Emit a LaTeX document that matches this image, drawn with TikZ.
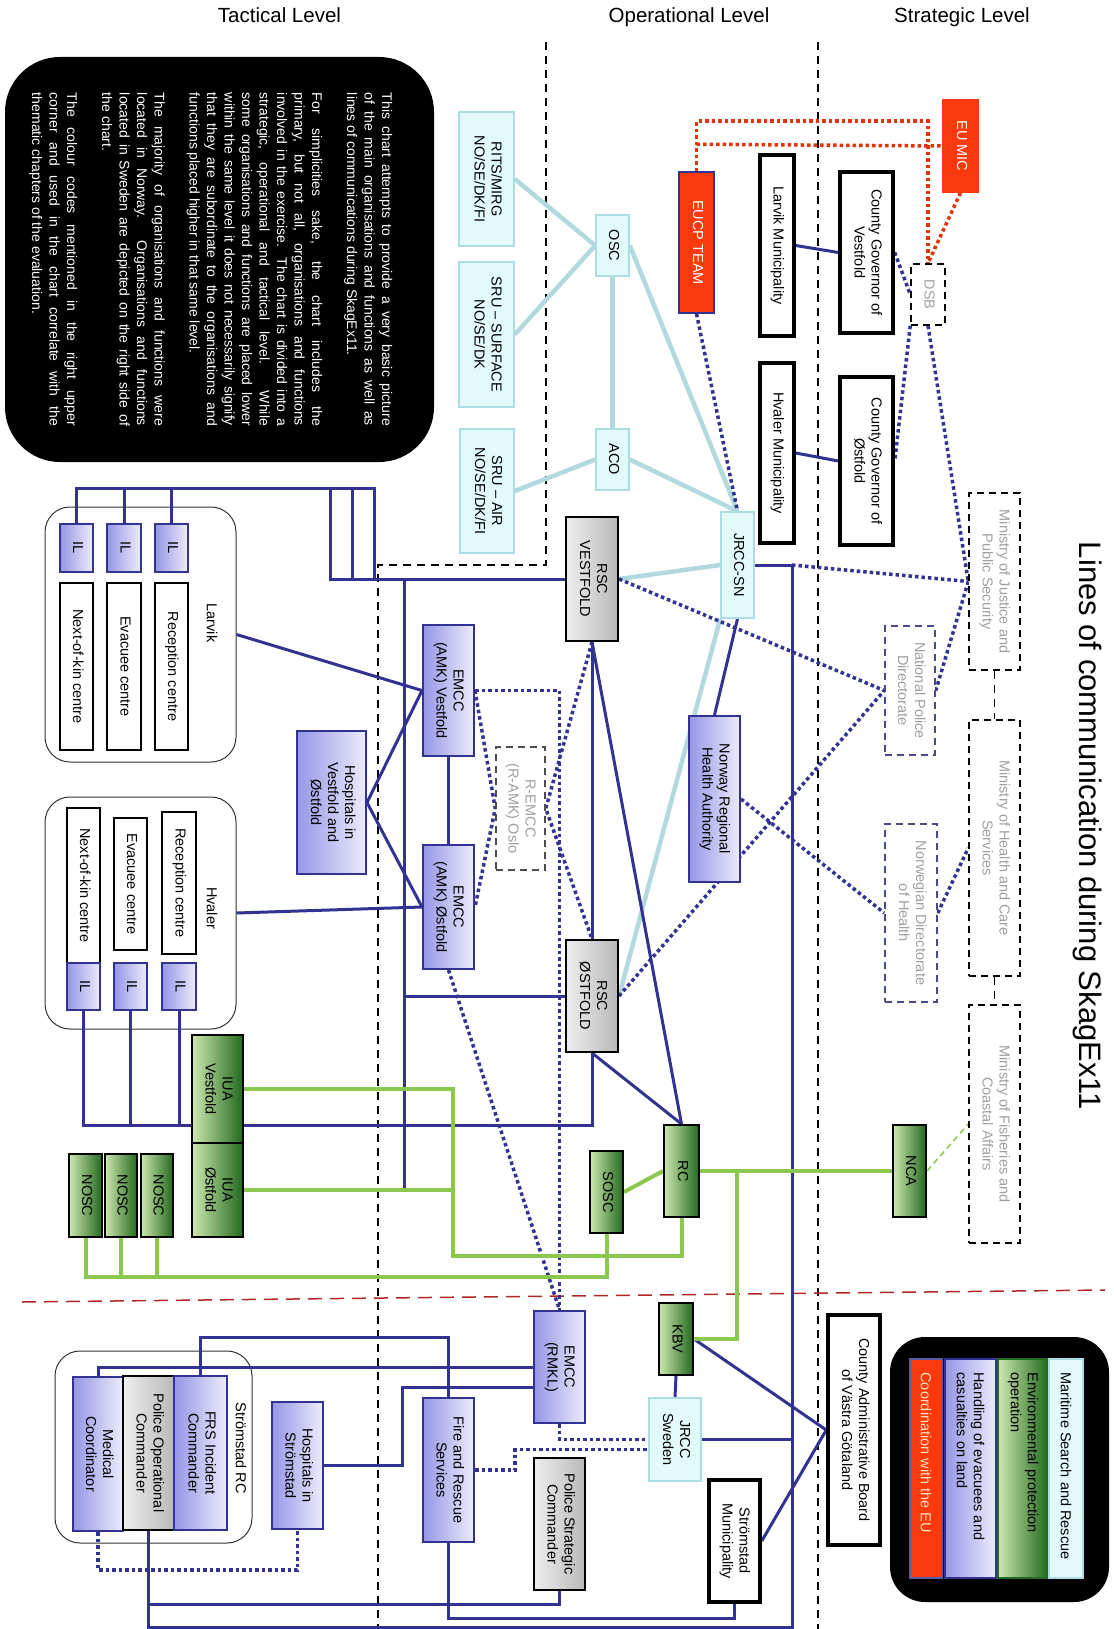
\documentclass[tikz,border=0pt]{standalone}
\usepackage{fontspec}
\usepackage{graphicx}
\setmainfont{Liberation Sans}
\usetikzlibrary{calc}
\pgfdeclarelayer{paper}
\pgfdeclarelayer{grp}
\pgfdeclarelayer{lines}
\pgfsetlayers{paper,grp,lines,main}
\definecolor{navy}{RGB}{50,50,145}
\definecolor{lblue}{RGB}{178,218,222}
\definecolor{lgreen}{RGB}{140,200,80}
\definecolor{cyanfill}{RGB}{226,250,250}
\definecolor{cyanbord}{RGB}{170,222,226}
\definecolor{lavL}{RGB}{150,150,230}
\definecolor{lavR}{RGB}{236,236,252}
\definecolor{grnL}{RGB}{205,232,175}
\definecolor{grnR}{RGB}{35,105,30}
\definecolor{grayL}{RGB}{238,238,238}
\definecolor{grayR}{RGB}{185,185,185}
\definecolor{eured}{RGB}{250,58,12}
\definecolor{txtgray}{RGB}{160,160,160}
\definecolor{darkred}{RGB}{175,40,40}
\definecolor{peach}{RGB}{255,225,190}
\newcommand\bxfont{\fontsize{14.5}{17}\selectfont}
\newcommand\hdfont{\fontsize{20.5}{24}\selectfont}
\newcommand\ttlfont{\fontsize{31}{36}\selectfont}
\newcommand\rt[1]{\rotatebox{-90}{\begin{tabular}{@{}c@{}}#1\end{tabular}}}
\newcommand\lgtext[1]{\rotatebox{-90}{\parbox{192pt}{\raggedright #1}}}
\newcommand\bx[7]{\node[#2,minimum width={(#5)-(#3)},minimum height={(#6)-(#4)}] (#1) at ({((#3)+(#5))/2},{((#4)+(#6))/2}) {\rt{#7}};}
\newcommand\lgx[6]{\node[#2,minimum width={(#4)-(#3)},minimum height={219}] (#1) at ({((#3)+(#4))/2},1468.5) {\lgtext{#6}};}
\tikzset{
 every node/.style={font=\bxfont, inner sep=0pt},
 bxbase/.style={rectangle, inner sep=0pt},
 cyanbox/.style={bxbase, fill=cyanfill, draw=cyanbord, line width=1.5pt},
 lavbox/.style={bxbase, left color=lavL, right color=lavR, draw=navy, line width=2pt},
 grnbox/.style={bxbase, left color=grnL, right color=grnR, draw=black, line width=2pt},
 graybox/.style={bxbase, left color=grayL, right color=grayR, draw=black, line width=2pt},
 blkbox/.style={bxbase, fill=white, draw=black, line width=3.5pt},
 redbox/.style={bxbase, fill=eured, draw=navy, line width=1.5pt, text=white},
 dashbox/.style={bxbase, fill=white, draw=black, line width=1.5pt, dash pattern=on 7pt off 5pt, text=txtgray},
 ndashbox/.style={dashbox, draw=navy!70!gray},
 thinbox/.style={bxbase, fill=white, draw=black, line width=1.5pt},
 grpbox/.style={draw=black!80, line width=1pt, rounded corners=25pt, fill=white},
 nv/.style={draw=navy, line width=3pt},
 nvdot/.style={draw=navy, line width=3.5pt, dash pattern=on 3.5pt off 3pt},
 lbl/.style={draw=lblue, line width=4.5pt},
 grl/.style={draw=lgreen, line width=4pt},
 reddot/.style={draw=eured!90!black, line width=3.5pt, dash pattern=on 3.5pt off 3pt},
 sepline/.style={draw=black, line width=1.5pt, dash pattern=on 8pt off 6pt},
}
\begin{document}
\begin{tikzpicture}[x=1pt,y=-1pt]
\useasboundingbox (0,0) rectangle (1113,1629);
\begin{pgfonlayer}{paper}
\fill[white] (0,0) rectangle (1113,1629);
\end{pgfonlayer}
% ---------- separators and groups
\begin{pgfonlayer}{grp}
\draw[sepline] (546,42) -- (546,565) -- (378,565) -- (378,1629);
\draw[sepline] (818,42) -- (818,1629);
\draw[darkred, line width=1.5pt, dash pattern=on 14pt off 8pt] (22,1302) -- (1105,1290);
\bx{LVG}{grpbox}{45}{507}{236}{762}{}
\bx{HVG}{grpbox}{45}{797}{236}{1029}{}
\bx{SRC}{grpbox}{55}{1351}{252}{1543}{}
\end{pgfonlayer}
% ---------- headers
\node[anchor=base] (hT) at (279.5,22.5) {\hdfont Tactical Level};
\node[anchor=base] (hO) at (689,22.5) {\hdfont Operational Level};
\node[anchor=base] (hS) at (962,22.5) {\hdfont Strategic Level};
\node (title) at (1087,826) {\rotatebox{-90}{\ttlfont Lines of communication during SkagEx11}};
% ---------- notes
\node[fill=black, rounded corners=55pt, minimum width=429, minimum height=405] (notes) at (219.5,259.5) {\rotatebox{-90}{\parbox{333pt}{\fontsize{14}{17.5}\selectfont\color{white}\setlength\parskip{17.5pt}\setlength\parindent{0pt}%
This chart attempts to provide a very basic picture\linebreak of the main organisations and functions as well as\linebreak lines of communications during SkagEx11.\par
For simplicities sake, the chart includes the\linebreak primary, but not all, organisations and functions\linebreak involved in the exercise. The chart is divided into a\linebreak strategic, operational and tactical level. While\linebreak some organisations and functions are placed lower\linebreak within the same level it does not necessarily signify\linebreak that they are subordinate to the organisations and\linebreak functions placed higher in that same level.\par
The majority of organisations and functions were\linebreak located in Norway. Organisations and functions\linebreak located in Sweden are depicted on the right side of\linebreak the chart.\par
The colour codes mentioned in the right upper\linebreak corner and used in the chart correlate with the\linebreak thematic chapters of the evaluation.\par}}};
% ---------- strategic
\bx{EUMIC}{redbox,draw=eured}{943}{100}{978}{192}{EU MIC}
\bx{DSB}{dashbox}{911}{264}{945}{325}{DSB}
\bx{CGV}{blkbox}{840}{172}{893}{333}{County Governor of\\Vestfold}
\bx{LM}{blkbox}{760}{155}{794}{336}{Larvik Municipality}
\bx{HM}{blkbox}{760}{363}{794}{543}{Hvaler Municipality}
\bx{CGO}{blkbox}{840}{377}{893}{545}{County Governor of\\Østfold}
\bx{MoJ}{dashbox}{969}{493}{1020}{670}{Ministry of Justice and\\Public Security}
\bx{MoH}{dashbox}{969}{720}{1020}{976}{Ministry of Health and Care\\Services}
\bx{MoF}{dashbox}{969}{1005}{1020}{1243}{Ministry of Fisheries and\\Coastal Affairs}
\bx{NPD}{ndashbox}{885}{626}{935}{755}{National Police\\Directorate}
\bx{NDH}{ndashbox}{885}{824}{937}{1002}{Norwegian Directorate\\of Health}
\bx{NCA}{grnbox}{893}{1125}{926}{1217}{NCA}
\bx{CAB}{blkbox}{828}{1315}{880}{1545}{County Administrative Board\\of Västra Götaland}
% legend
\node[fill=black, rounded corners=35pt, minimum width=219, minimum height=265] (LEG) at (999.5,1469.5) {};
\lgx{LRED}{bxbase,fill=eured,draw=navy!80,line width=1.5pt,text=peach}{910}{942}{}{Coordination with the EU}
\lgx{LLAV}{lavbox}{945}{996}{}{Handling of evacuees and\\casualties on land}
\lgx{LGRN}{grnbox,draw=grnR}{998}{1048}{}{Environmental protection\\operation}
\lgx{LCYN}{cyanbox}{1049}{1083}{}{Maritime Search and Rescue}
% ---------- operational
\bx{OSC}{cyanbox}{596}{215}{629}{276}{OSC}
\bx{ACO}{cyanbox}{596}{429}{629}{490}{ACO}
\bx{EUCP}{redbox}{679}{172}{714}{313}{EUCP TEAM}
\bx{JRCCSN}{cyanbox}{721}{512}{754}{618}{JRCC-SN}
\bx{RITS}{cyanbox}{459}{112}{514}{246}{RITS/MIRG\\NO/SE/DK/FI}
\bx{SRUS}{cyanbox}{459}{262}{514}{407}{SRU – SURFACE\\NO/SE/DK}
\bx{SRUA}{cyanbox}{460}{429}{514}{553}{SRU – AIR\\NO/SE/DK/FI}
\bx{RSCV}{graybox}{566}{517}{618}{641}{RSC\\VESTFOLD}
\bx{NRHA}{lavbox}{689}{716}{740}{882}{Norway Regional\\Health Authority}
\bx{RSCO}{graybox}{566}{940}{618}{1052}{RSC\\ØSTFOLD}
\bx{EMCCV}{lavbox}{423}{625}{474}{756}{EMCC\\(AMK) Vestfold}
\bx{EMCCO}{lavbox}{423}{845}{474}{969}{EMCC\\(AMK) Østfold}
\bx{REMCC}{dashbox,draw=black!70}{496}{747}{545}{870}{R-EMCC\\(R-AMK) Oslo}
\bx{RC}{grnbox}{664}{1125}{699}{1217}{RC}
\bx{SOSC}{grnbox}{590}{1151}{623}{1233}{SOSC}
\bx{KBV}{grnbox}{659}{1303}{693}{1375}{KBV}
\bx{JRCCS}{cyanbox}{649}{1398}{701}{1481}{JRCC\\Sweden}
\bx{SM}{blkbox}{709}{1480}{760}{1602}{Strömstad\\Municipality}
\bx{EMCCR}{lavbox}{534}{1311}{585}{1423}{EMCC\\(RMKL)}
\bx{FRS}{lavbox}{423}{1398}{474}{1542}{Fire and Rescue\\Services}
\bx{PSC}{graybox}{534}{1458}{585}{1590}{Police Strategic\\Commander}
% ---------- tactical
\node (LVGl) at (212,623) {\rotatebox{-90}{Larvik}};
\node (HVGl) at (212,908) {\rotatebox{-90}{Hvaler}};
\node (SRCl) at (241,1448) {\rotatebox{-90}{Strömstad RC}};
\bx{IL1}{lavbox}{60}{524}{93}{572}{IL}
\bx{IL2}{lavbox}{107}{524}{141}{572}{IL}
\bx{IL3}{lavbox}{155}{524}{188}{572}{IL}
\bx{NK1}{thinbox}{60}{583}{93}{750}{Next-of-kin centre}
\bx{EV1}{thinbox}{107}{583}{141}{750}{Evacuee centre}
\bx{RE1}{thinbox}{155}{583}{188}{750}{Reception centre}
\bx{NK2}{thinbox}{67}{808}{100}{963}{Next-of-kin centre}
\bx{EV2}{thinbox}{114}{818}{147}{950}{Evacuee centre}
\bx{RE2}{thinbox}{162}{812}{196}{954}{Reception centre}
\bx{ILH1}{lavbox}{67}{963}{100}{1010}{IL}
\bx{ILH2}{lavbox}{114}{963}{147}{1010}{IL}
\bx{ILH3}{lavbox}{162}{963}{196}{1010}{IL}
\bx{HVO}{lavbox}{297}{731}{366}{874}{Hospitals in\\Vestfold and\\Østfold}
\bx{IUAV}{grnbox}{192}{1035}{243}{1143}{IUA\\Vestfold}
\bx{IUAO}{grnbox}{192}{1143}{243}{1237}{IUA\\Østfold}
\bx{NOSC1}{grnbox}{69}{1154}{102}{1237}{NOSC}
\bx{NOSC2}{grnbox}{105}{1154}{137}{1237}{NOSC}
\bx{NOSC3}{grnbox}{141}{1154}{173}{1237}{NOSC}
\bx{MC}{lavbox}{73}{1377}{123}{1531}{Medical\\Coordinator}
\bx{POC}{graybox}{123}{1376}{174}{1530}{Police Operational\\Commander}
\bx{FRSIC}{lavbox}{174}{1376}{227}{1530}{FRS Incident\\Commander}
\bx{HS}{lavbox}{272}{1402}{323}{1529}{Hospitals in\\Strömstad}
% ---------- connectors
\begin{pgfonlayer}{lines}
% light blue
\draw[lbl] (RITS.east) -- (OSC.west);
\draw[lbl] (SRUS.east) -- (OSC.west);
\draw[lbl] (SRUA.east) -- (ACO.west);
\draw[lbl] (OSC.south) -- (ACO.north);
\draw[lbl] (OSC.east) -- (JRCCSN.north);
\draw[lbl] (ACO.east) -- (JRCCSN.north);
\draw[lbl] (RSCV.east) -- (JRCCSN.west);
\draw[lbl] (JRCCSN.south west) -- (RSCO.east);
% navy solid
\coordinate (busR) at (792,565);
\draw[nv] (LM.east) -- (CGV.west);
\draw[nv] (HM.east) -- (CGO.west);
\draw[nv] (JRCCSN.south) -- (NRHA.north);
\draw[nv] (JRCCSN.east) -- (busR) -- (792,1627) -| (POC.south);
\draw[nv] (JRCCS.east) -- (JRCCS.east -| busR);
\draw[nv] (KBV.south) -- (JRCCS.north);
\draw[nv] (KBV.east) -- (CAB.west);
\draw[nv] (CAB.west) -- (SM.east);
\draw[nv] (SM.south) -- ++(0,15) -| (FRS.south);
\draw[nv] (PSC.south) -- ++(0,13) -| (POC.south);
\draw[nv] (MC.north) |- (EMCCR.west);
\draw[nv] (FRSIC.north) -- ++(0,-38) -| (FRS.north);
\draw[nv] (HS.east) -- ++(78,0) |- ($(EMCCR.west)+(0,20)$);
\draw[nv] (IL1.north) |- (374,488) |- (RSCV.west);
\draw[nv] (IL2.north) |- (352,488) |- (RSCV.west);
\draw[nv] (IL3.north) |- (330,488) |- (RSCV.west);
\draw[nv] (RSCV.west -| 404,0) -- (404,1190) -- (IUAO.east);
\draw[nv] (RSCO.west) -- (RSCO.west -| 404,0);
\foreach \i in {1,2,3} {\draw[nv] (ILH\i.south) |- ($(RSCO.south)+(0,72)$) -- (RSCO.south);}
\draw[nv] (LVG.east) -- (EMCCV.west);
\draw[nv] (HVG.east) -- (EMCCO.west);
\draw[nv] (HVO.east) -- (EMCCV.west);
\draw[nv] (HVO.east) -- (EMCCO.west);
\draw[nv] (EMCCV.south) -- (EMCCO.north);
\draw[nv] (RSCV.south) -- (RSCO.north);
\draw[nv] (RSCV.south) -- (RC.north);
\draw[nv] (RSCO.south) -- (RC.north);
% navy dotted
\draw[nvdot] (CGV.east) -- (DSB.west);
\draw[nvdot] (DSB.south west) -- (CGO.east);
\draw[nvdot] (DSB.south) -- (MoJ.west);
\draw[nvdot] (busR) -- (MoJ.west);
\draw[nvdot] (MoJ.west) -- (NPD.east);
\draw[nvdot] (RSCV.east) -- (NPD.west);
\draw[nvdot] (RSCO.east) -- (NPD.west);
\draw[nvdot] (NRHA.east) -- (NDH.west);
\draw[nvdot] (NDH.east) -- (MoH.west);
\draw[nvdot] (EUCP.south) -- (JRCCSN.north);
\draw[nvdot] (EMCCV.east) -- (REMCC.west) -- (EMCCO.east);
\draw[nvdot] (RSCV.south) -- (REMCC.east) -- (RSCO.north);
\draw[nvdot] (EMCCV.east) -| (EMCCR.north);
\draw[nvdot] (EMCCO.south) -- (EMCCR.north);
\draw[nvdot] (EMCCR.south) |- (JRCCS.west);
\draw[nvdot] (FRS.east) -- ++(40,0) |- ($(JRCCS.west)+(0,10)$);
\draw[nvdot] (MC.south) -- ++(0,38) -| (HS.south);
% red dotted
\draw[reddot] (EUCP.north) -- ++(0,-50) -| (DSB.north);
\draw[reddot] ($(EUCP.north)+(0,-27)$) -- (EUMIC.west);
\draw[reddot] (EUMIC.south) -- (DSB.north);
% green
\draw[grl] (IUAV.east) -- (453,1089) |- ($(RC.south)+(0,38)$) -- (RC.south);
\draw[grl] (IUAO.east) -- (IUAO.east -| 453,0);
\foreach \i in {1,2,3} {\draw[grl] (NOSC\i.south) |- ($(SOSC.south)+(0,43)$) -- (SOSC.south);}
\draw[grl] (SOSC.east) -- (RC.west);
\draw[grl] (RC.east) -- (NCA.west);
\draw[grl] ($(RC.east)+(37,0)$) |- (KBV.east);
\draw[lgreen, line width=1.5pt, dash pattern=on 6pt off 4pt] (NCA.east) -- (MoF.west);
% ministries
\draw[sepline] (MoJ.south) -- (MoH.north);
\draw[sepline] (MoH.south) -- (MoF.north);
\end{pgfonlayer}
\end{tikzpicture}
\end{document}
